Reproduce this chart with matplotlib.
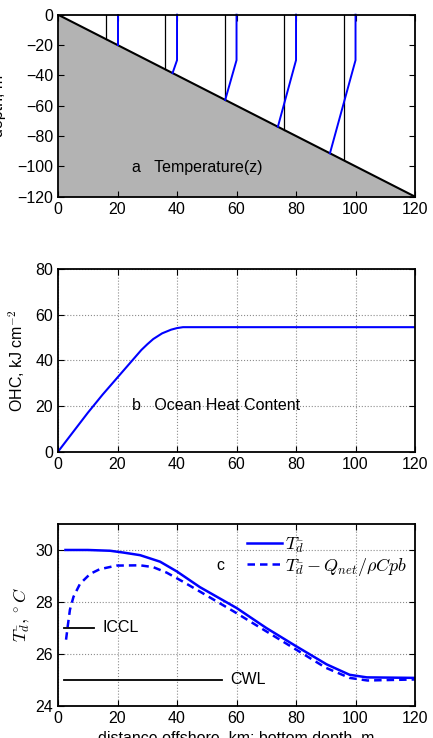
"""
三联图: 温度剖面 / 海洋热含量 / 平均温度 vs 离岸距离
"""
import matplotlib
matplotlib.use("Agg")
import matplotlib.pyplot as plt

plt.rcParams["font.family"] = ["Liberation Sans", "DejaVu Sans"]
plt.rcParams["mathtext.fontset"] = "cm"
plt.rcParams["font.size"] = 11.5

# ── a: 海底坡面 + 温度剖面
bottom_x = [0, 120]
bottom_z = [0, -120]
black_x = [16, 36, 56, 76, 96]
# 蓝线: 每条剖面 (x, z) 折点
prof_x = [[20, 20],
          [40, 40, 38.5],
          [60, 60, 56.2],
          [80, 80, 73.9],
          [100, 100, 91.4]]
prof_z = [[0, -20],
          [0, -30, -38.5],
          [0, -30, -56.2],
          [0, -30, -73.9],
          [0, -30, -91.4]]

# ── b: OHC
ohc_x = [0, 5, 10, 15, 20, 25, 28, 30, 32, 35, 38, 40, 42, 120]
ohc_y = [0, 8.5, 17, 25, 32.5, 40, 44.5, 47, 49.3, 51.8, 53.4, 54.1, 54.5, 54.5]

# ── c: T_d
td_x = [2.5, 10, 17.5, 22, 27.6, 34.3, 40, 47.7, 60, 70, 80, 90.3, 98, 103.8, 120]
td_y = [30.0, 30.0, 29.97, 29.9, 29.8, 29.55, 29.17, 28.57, 27.77, 27.0, 26.3, 25.6, 25.2, 25.1, 25.08]
tq_x = [2.7, 3.3, 4.0, 5.2, 7.4, 10.8, 14, 19.7, 27.6, 32, 36.5, 42, 47.7, 59, 70, 81, 90, 98, 104, 120]
tq_y = [26.55, 27.1, 27.7, 28.2, 28.7, 29.08, 29.26, 29.4, 29.41, 29.34, 29.13, 28.78, 28.4,
        27.64, 26.87, 26.1, 25.47, 25.08, 24.98, 25.02]
iccl_x, iccl_y = [2, 12], [27.0, 27.0]
cwl_x, cwl_y = [2, 55], [25.0, 25.0]

BLUE = (0, 0, 1)


def style(ax):
    ax.tick_params(direction="in", top=True, right=True, length=4, width=0.8)
    for s in ax.spines.values():
        s.set_linewidth(1.3)


fig = plt.figure(figsize=(4.33, 7.38), dpi=100)
ax1 = fig.add_axes([0.134, 0.7335, 0.8245, 0.2466])
ax2 = fig.add_axes([0.134, 0.388, 0.8245, 0.2476])
ax3 = fig.add_axes([0.134, 0.0434, 0.8245, 0.2466])

# a
ax1.fill_between(bottom_x, bottom_z, -120, color=(0.7, 0.7, 0.7), lw=0)
ax1.plot(bottom_x, bottom_z, color="k", lw=1.5)
for bx in black_x:
    ax1.plot([bx, bx], [0, -bx], color="k", lw=0.9)
for px, pz in zip(prof_x, prof_z):
    ax1.plot(px, pz, color=BLUE, lw=1.4, clip_on=False)
ax1.text(25, -101, "a   Temperature(z)", va="center", fontsize=11.5)
ax1.set_xlim(0, 120)
ax1.set_ylim(-120, 0)
ax1.set_xticks(range(0, 121, 20))
ax1.set_yticks(range(-120, 1, 20))
ax1.set_ylabel("depth, m")
ax1.yaxis.set_label_coords(-0.145, 0.5)
style(ax1)

# b
ax2.plot(ohc_x, ohc_y, color=BLUE, lw=1.5)
ax2.text(25, 20, "b   Ocean Heat Content", va="center", fontsize=11.5)
ax2.set_xlim(0, 120)
ax2.set_ylim(0, 80)
ax2.set_xticks(range(0, 121, 20))
ax2.set_yticks(range(0, 81, 20))
ax2.grid(True, linestyle=":", color="0.55", lw=0.8)
ax2.set_ylabel("OHC, kJ cm$^{-2}$")
ax2.yaxis.set_label_coords(-0.087, 0.5)
style(ax2)

# c
ax3.plot(td_x, td_y, color=BLUE, lw=1.8, label=r"$T_{\bar{d}}$")
ax3.plot(tq_x, tq_y, color=BLUE, lw=1.8, ls=(0, (3, 2)),
         label=r"$T_{\bar{d}} - Q_{net}/\rho C p b$")
ax3.plot(iccl_x, iccl_y, color="k", lw=1.3)
ax3.plot(cwl_x, cwl_y, color="k", lw=1.3)
ax3.text(15, 27.0, "ICCL", va="center")
ax3.text(58, 25.0, "CWL", va="center")
ax3.text(54.5, 29.4, "c", ha="center", va="center")
ax3.set_xlim(0, 120)
ax3.set_ylim(24, 31)
ax3.set_xticks(range(0, 121, 20))
ax3.set_yticks(range(24, 31, 2))
ax3.grid(True, linestyle=":", color="0.55", lw=0.8)
ax3.legend(loc="upper right", bbox_to_anchor=(0.998, 0.975), frameon=False,
           fontsize=13, handlelength=1.9, handletextpad=0.2, labelspacing=0.05,
           borderaxespad=0)
ax3.set_ylabel(r"$T_{\bar{d}},^\circ C$", fontsize=13)
ax3.yaxis.set_label_coords(-0.073, 0.5)
ax3.set_xlabel("distance offshore, km; bottom depth, m")
ax3.xaxis.set_label_coords(0.5, -0.137)
style(ax3)

fig.savefig("out.png", dpi=100)
